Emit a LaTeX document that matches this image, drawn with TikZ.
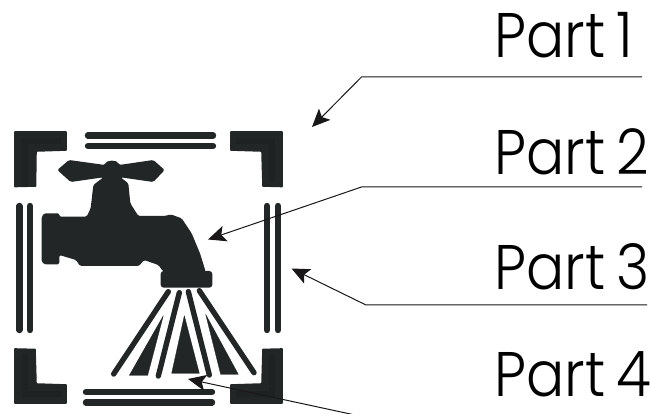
\documentclass[tikz,border=0pt]{standalone}
\usepackage{graphicx}
\usepackage{fontspec}
\setmainfont{Poppins}[UprightFont=* Light,WordSpace=0.7]
\usetikzlibrary{arrows.meta}
\definecolor{ink}{HTML}{222627}
\definecolor{inner}{HTML}{1E2223}
\definecolor{lead}{HTML}{1A1718}
\newcommand{\parttext}[1]{\scalebox{.9}[1]{#1}}
\tikzset{
  bar/.style={line width=6.4pt,line cap=round,draw=ink},
  jet/.style={line width=5.4pt,line cap=round,draw=ink},
  wedge/.style={fill=ink,draw=ink,line width=.3pt,line join=round},
  corner/.style={fill=ink,draw=ink,line width=1.6pt,line join=round},
  cornerin/.style={draw=inner,line width=6pt,line join=miter},
  leader/.style={draw=lead,line width=1pt,-{Stealth[length=18pt,width=16pt,inset=4pt,fill=lead]}},
  partlabel/.style={anchor=base west,inner sep=0pt,outer sep=0pt,font=\fontsize{63}{63}\selectfont,text=black},
}
\begin{document}
\begin{tikzpicture}[x=1pt,y=-1pt]
\useasboundingbox (0,0) rectangle (651,414);
\fill[white] (0,0) rectangle (651,414);
% corners
\draw[corner] (15,132) -- (66,132) -- (66,150) -- (36,151) -- (35.5,186) -- (15,186.5) -- cycle;
\draw[cornerin] (25,187) -- (25,141) -- (61,141);
\draw[corner] (231,132) -- (282,132) -- (282,186.5) -- (263,186) -- (262,151) -- (231,150) -- cycle;
\draw[cornerin] (236,141) -- (272,141) -- (272,181);
\draw[corner] (15,349) -- (35,349.5) -- (36,384) -- (66,385) -- (66,403) -- (15,403) -- cycle;
\draw[cornerin] (25,355) -- (25,394) -- (61,394);
\draw[corner] (263,349.5) -- (282,349) -- (282,403) -- (231,403) -- (231,385) -- (262,384) -- cycle;
\draw[cornerin] (236,394) -- (272,394) -- (272,355);
% bars
\draw[bar] (88,135.5) -- (213,135.5);
\draw[bar] (88,146) -- (213,146);
\draw[bar] (86,392) -- (212,392);
\draw[bar] (86,402.5) -- (212,402.5);
\draw[bar] (19.3,206) -- (19.3,330);
\draw[bar] (30,206) -- (30,330);
\draw[bar] (267,206) -- (267,330);
\draw[bar] (278,206) -- (278,330);
% faucet, in 3x crop coordinates
\begin{scope}[shift={(0pt,-120pt)},x=.33333pt,y=-.33333pt]
\fill[ink,rounded corners=1.5pt] (172,150) -- (207,120) -- (315,135) .. controls (318,120) and (352,118) .. (357,135) -- (460,120) -- (494,150) -- (460,186) -- (362,172) -- (385,190) -- (391,250) -- (415,288) -- (495,288) -- (512,283) -- (545,295) -- (575,340) -- (600,400) -- (617,455) -- (490,455) -- (475,435) -- (432,420) -- (417,438) -- (240,438) -- (228,420) -- (178,405) -- (178,433) -- (133,433) -- (125,425) -- (125,290) -- (133,280) -- (178,280) -- (178,290) -- (260,290) -- (272,265) -- (280,195) -- (310,172) -- (212,186) -- cycle;
\fill[ink,rounded corners=3pt] (482,453) rectangle (637,503);
\end{scope}
% spray, in 3x crop coordinates
\begin{scope}[shift={(0pt,-270pt)},x=.33333pt,y=-.33333pt]
\draw[jet] (505,65) -- (341,312);
\draw[jet] (538,68) -- (475,318);
\draw[jet] (565,65) -- (628,315);
\draw[jet] (598,62) -- (762,308);
\fill[wedge] (490,137) -- (443,316) -- (388,316) -- cycle;
\fill[wedge] (553,137) -- (598,310) -- (515,310) -- cycle;
\fill[wedge] (617,133) -- (715,313) -- (662,313) -- cycle;
\end{scope}
% labels
\node[partlabel] (p1) at (494.5,58) {\parttext{Part 1}};
\node[partlabel] (p2) at (494.5,175) {\parttext{Part 2}};
\node[partlabel] (p3) at (494.5,290) {\parttext{Part 3}};
\node[partlabel] (p4) at (494.5,396) {\parttext{Part 4}};
% leaders
\coordinate (a1) at (642,77); \coordinate (b1) at (361.5,77); \coordinate (c1) at (312,127);
\coordinate (a2) at (642,187); \coordinate (b2) at (361.5,187); \coordinate (c2) at (208,239.5);
\coordinate (a3) at (647,305); \coordinate (b3) at (366,305); \coordinate (c3) at (291.5,268.5);
\coordinate (a4) at (355,415); \coordinate (c4) at (188,379);
\draw[leader] (a1) -- (b1) -- (c1);
\draw[leader] (a2) -- (b2) -- (c2);
\draw[leader] (a3) -- (b3) -- (c3);
\draw[leader] (a4) -- (c4);
\end{tikzpicture}
\end{document}
